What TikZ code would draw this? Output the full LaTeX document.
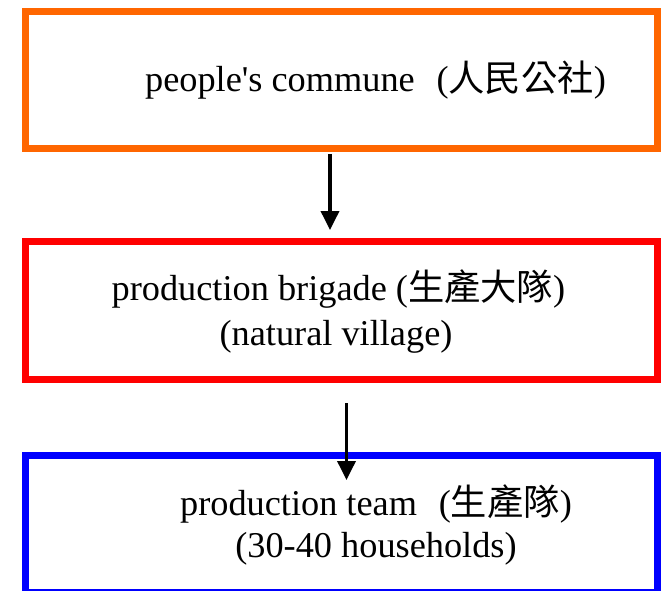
\documentclass[tikz,border=0pt]{standalone}
\usepackage{fontspec}
\setmainfont{Liberation Serif}
\newfontfamily\cjk{Noto Sans CJK TC}
\usetikzlibrary{arrows.meta}
\definecolor{boxorange}{RGB}{255,102,0}
\definecolor{boxred}{RGB}{255,0,0}
\definecolor{boxblue}{RGB}{0,0,255}
\begin{document}
\begin{tikzpicture}[x=1pt,y=-1pt,
  box/.style={draw,line width=7pt,minimum width=632pt,inner sep=0pt},
  lbl/.style={font=\fontsize{36.3}{40}\selectfont,anchor=base,inner sep=0pt},
  arr/.style={line width=3.6pt,-{Triangle[width=18pt,length=19pt]}}]
\useasboundingbox (0,0) rectangle (664,590);
\clip (0,0) rectangle (664,590);
\node[box,draw=boxorange,minimum height=137pt] (commune) at (341.5,80) {};
\node[box,draw=boxred,minimum height=138pt] (brigade) at (341.5,310.5) {};
\node[box,draw=boxblue,minimum height=137pt] (team) at (341.5,524) {};
\node[lbl] (t1) at (375.5,91) {people\textquotesingle s commune\hspace{0.6em}({\cjk 人民公社})};
\node[lbl] (t2a) at (338.5,300) {production brigade ({\cjk 生產大隊})};
\node[lbl] (t2b) at (336,345) {(natural village)};
\node[lbl] (t3a) at (376,515) {production team\hspace{0.6em}({\cjk 生產隊})};
\node[lbl] (t3b) at (376,557) {(30-40 households)};
\coordinate (a1s) at (330,154);
\coordinate (a1e) at (330,230);
\coordinate (a2s) at (346.5,403);
\coordinate (a2e) at (346.5,480);
\draw[arr] (a1s) -- (a1e);
\draw[arr] (a2s) -- (a2e);
\end{tikzpicture}
\end{document}
